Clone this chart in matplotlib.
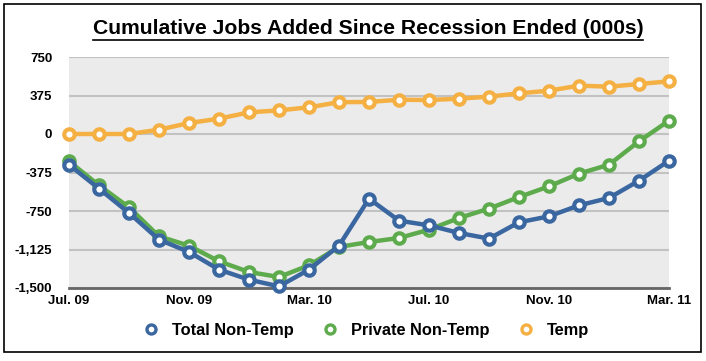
import matplotlib
matplotlib.use("Agg")
import matplotlib.pyplot as plt
from matplotlib.patches import Rectangle
from matplotlib.lines import Line2D

plt.rcParams['font.family'] = ['Liberation Sans', 'DejaVu Sans']

months = ["Jul. 09", "Aug. 09", "Sep. 09", "Oct. 09", "Nov. 09", "Dec. 09", "Jan. 10",
          "Feb. 10", "Mar. 10", "Apr. 10", "May 10", "Jun. 10", "Jul. 10", "Aug. 10",
          "Sep. 10", "Oct. 10", "Nov. 10", "Dec. 10", "Jan. 11", "Feb. 11", "Mar. 11"]
total_non_temp = [-299, -532, -769, -1029, -1149, -1321, -1419, -1484, -1321, -1088,
                  -630, -844, -890, -964, -1019, -860, -802, -695, -623, -455, -260]
private_non_temp = [-266, -500, -714, -997, -1088, -1240, -1344, -1393, -1279, -1100,
                    -1052, -1013, -932, -818, -727, -614, -510, -386, -299, -71, 130]
temp = [0, 0, 0, 42, 107, 149, 211, 230, 260, 310,
        312, 334, 331, 344, 364, 396, 422, 471, 461, 487, 513]
yticks = [750, 375, 0, -375, -750, -1125, -1500]
ytick_labels = ["750", "375", "0", "-375", "-750", "-1,125", "-1,500"]

blue = "#3B67A1"
green = "#5DAB4C"
orange = "#F5B043"

fig = plt.figure(figsize=(7.06, 3.61), dpi=100)
ax = fig.add_axes([69/706, 1-288/361, 600/706, 231/361])
ax.set_facecolor("#EBEBEB")

x = list(range(len(months)))
style = dict(lw=3.2, marker="o", ms=7.5, mew=3, mfc="white", clip_on=False)
ax.plot(x, temp, color=orange, label="Temp", zorder=3, **style)
ax.plot(x, private_non_temp, color=green, label="Private Non-Temp", zorder=4, **style)
ax.plot(x, total_non_temp, color=blue, label="Total Non-Temp", zorder=5, **style)

ax.set_xlim(0, 20)
ax.set_ylim(-1500, 750)
ax.set_yticks(yticks)
ax.set_yticklabels(ytick_labels)
ax.set_xticks(x[::4])
ax.set_xticklabels(months[::4])
ax.tick_params(length=0, labelsize=9.5)
ax.tick_params(axis="y", pad=12)
ax.tick_params(axis="x", pad=5)
for lab in ax.get_xticklabels() + ax.get_yticklabels():
    lab.set_fontweight("bold")
ax.yaxis.grid(True, color="#C2C2C2", lw=1.5)
ax.set_axisbelow(True)
for s in ["top", "right", "left"]:
    ax.spines[s].set_visible(False)
ax.spines["bottom"].set_color("#666666")
ax.spines["bottom"].set_linewidth(2)

handles = [Line2D([], [], ls="none", marker="o", ms=6.5, mew=2.4, mfc="white", color=c)
           for c in [blue, green, orange]]
leg = fig.legend(handles, ["Total Non-Temp", "Private Non-Temp", "Temp"],
                 loc="center", bbox_to_anchor=(366/706, 1-330/361), ncol=3,
                 frameon=False, handlelength=1.0, handletextpad=0.75, columnspacing=1.75,
                 prop=dict(weight="bold", size=11.8))

t = fig.text(368/706, 1-29/361, "Cumulative Jobs Added Since Recession Ended (000s)",
             ha="center", va="center", fontsize=15.2, fontweight="bold")

fig.patches.append(Rectangle((4/706, 1-352/361), 697/706, 348/361, transform=fig.transFigure,
                             fill=False, ec="black", lw=1.2))

fig.canvas.draw()
bb = t.get_window_extent().transformed(fig.transFigure.inverted())
fig.add_artist(Line2D([bb.x0, bb.x1], [1-39.5/361, 1-39.5/361], transform=fig.transFigure,
                      color="black", lw=1.2))

fig.savefig("out.png", dpi=100)
